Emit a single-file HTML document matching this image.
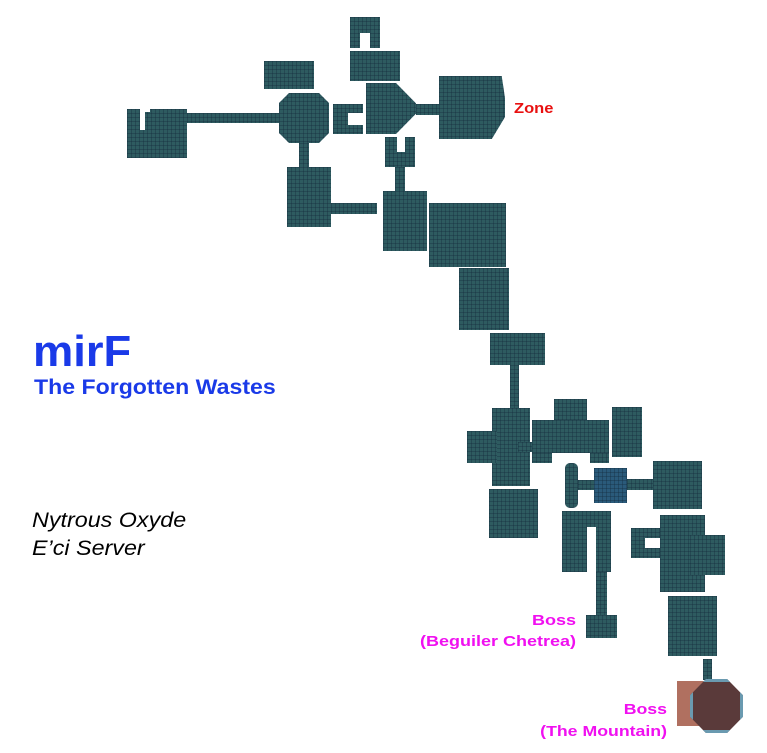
<!DOCTYPE html>
<html><head><meta charset="utf-8"><style>
html,body{margin:0;padding:0;background:#fff;}
body{width:767px;height:753px;position:relative;overflow:hidden;font-family:"Liberation Sans",sans-serif;}
.r{position:absolute;background:#2e5b60;background-image:linear-gradient(rgba(20,40,60,.35) 1px,transparent 1px),linear-gradient(90deg,rgba(20,40,60,.35) 1px,transparent 1px);background-size:4px 4px;}
.w{position:absolute;background:#fff;}
.t{position:absolute;white-space:nowrap;}
</style></head><body>
<div class="r" style="left:127px;top:109px;width:60px;height:49px"></div>
<div class="w" style="left:140px;top:109px;width:5px;height:21px"></div>
<div class="w" style="left:145px;top:109px;width:5px;height:3px"></div>
<div class="r" style="left:187px;top:113px;width:92px;height:10px"></div>
<div class="r" style="left:264px;top:61px;width:50px;height:28px"></div>
<div class="r" style="left:279px;top:93px;width:50px;height:50px;clip-path:polygon(0 20%,20% 0,80% 0,100% 20%,100% 80%,80% 100%,20% 100%,0 80%)"></div>
<div class="r" style="left:299px;top:143px;width:10px;height:24px"></div>
<div class="r" style="left:287px;top:167px;width:44px;height:60px"></div>
<div class="r" style="left:331px;top:203px;width:46px;height:11px"></div>
<div class="r" style="left:333px;top:104px;width:30px;height:30px"></div>
<div class="w" style="left:348px;top:113px;width:15px;height:12px"></div>
<div class="r" style="left:366px;top:83px;width:50px;height:51px;clip-path:polygon(0 0,60% 0,100% 40%,100% 60%,60% 100%,0 100%)"></div>
<div class="r" style="left:350px;top:17px;width:30px;height:31px"></div>
<div class="w" style="left:360px;top:33px;width:10px;height:15px"></div>
<div class="r" style="left:350px;top:51px;width:50px;height:30px"></div>
<div class="r" style="left:416px;top:104px;width:23px;height:11px"></div>
<div class="r" style="left:439px;top:76px;width:66px;height:63px;clip-path:polygon(0 0,95% 0,100% 35%,100% 65%,80% 100%,0 100%)"></div>
<div class="r" style="left:385px;top:137px;width:30px;height:30px"></div>
<div class="w" style="left:397px;top:137px;width:8px;height:15px"></div>
<div class="r" style="left:395px;top:167px;width:10px;height:25px"></div>
<div class="r" style="left:383px;top:191px;width:44px;height:60px"></div>
<div class="r" style="left:429px;top:203px;width:77px;height:64px"></div>
<div class="r" style="left:459px;top:268px;width:50px;height:62px"></div>
<div class="r" style="left:490px;top:333px;width:55px;height:32px"></div>
<div class="r" style="left:510px;top:365px;width:9px;height:45px"></div>
<div class="r" style="left:492px;top:408px;width:38px;height:78px"></div>
<div class="r" style="left:467px;top:431px;width:30px;height:32px"></div>
<div class="r" style="left:518px;top:442px;width:14px;height:10px"></div>
<div class="r" style="left:489px;top:489px;width:49px;height:49px"></div>
<div class="r" style="left:554px;top:399px;width:33px;height:21px"></div>
<div class="r" style="left:532px;top:420px;width:77px;height:33px"></div>
<div class="r" style="left:532px;top:453px;width:20px;height:10px"></div>
<div class="r" style="left:590px;top:453px;width:19px;height:10px"></div>
<div class="r" style="left:612px;top:407px;width:30px;height:50px"></div>
<div class="r" style="left:565px;top:463px;width:13px;height:45px;border-radius:5px"></div>
<div class="r" style="left:578px;top:480px;width:16px;height:10px"></div>
<div class="r" style="left:594px;top:468px;width:33px;height:35px;background-color:#2a5a7a"></div>
<div class="r" style="left:627px;top:479px;width:26px;height:11px"></div>
<div class="r" style="left:653px;top:461px;width:49px;height:48px"></div>
<div class="r" style="left:562px;top:511px;width:49px;height:61px"></div>
<div class="w" style="left:587px;top:527px;width:9px;height:45px"></div>
<div class="r" style="left:596px;top:572px;width:11px;height:43px"></div>
<div class="r" style="left:586px;top:615px;width:31px;height:23px"></div>
<div class="r" style="left:660px;top:515px;width:45px;height:77px"></div>
<div class="r" style="left:690px;top:535px;width:35px;height:40px"></div>
<div class="r" style="left:631px;top:528px;width:29px;height:30px"></div>
<div class="w" style="left:645px;top:538px;width:15px;height:10px"></div>
<div class="r" style="left:668px;top:596px;width:49px;height:60px"></div>
<div class="r" style="left:703px;top:659px;width:9px;height:21px"></div>
<div style="position:absolute;left:677px;top:681px;width:30px;height:45px;background:#b07060"></div>
<div style="position:absolute;left:690px;top:679px;width:53px;height:54px;background:#5a3a3a;border:3px solid #6a9ab0;box-sizing:border-box;clip-path:polygon(30% 0,70% 0,100% 30%,100% 70%,70% 100%,30% 100%,0 70%,0 30%)"></div>
<div class="t" style="left:33px;top:327px;font-size:44px;font-weight:bold;color:#1a3ae8;transform:scaleX(1.03);transform-origin:0 0">mirF</div>
<div class="t" style="left:34px;top:376px;font-size:21px;font-weight:bold;color:#1a3ae8;transform:scaleX(1.1);transform-origin:0 0">The Forgotten Wastes</div>
<div class="t" style="left:32px;top:509px;font-size:21px;font-style:italic;color:#000;transform:scaleX(1.11);transform-origin:0 0">Nytrous Oxyde</div>
<div class="t" style="left:32px;top:537px;font-size:21px;font-style:italic;color:#000;transform:scaleX(1.11);transform-origin:0 0">E’ci Server</div>
<div class="t" style="left:514px;top:100px;font-size:15px;font-weight:bold;color:#e81010;transform:scaleX(1.1);transform-origin:0 0">Zone</div>
<div class="t" style="left:420px;top:610px;width:156px;text-align:right;font-size:15px;font-weight:bold;color:#f010f0;line-height:21px;transform:scaleX(1.2);transform-origin:100% 0">Boss<br>(Beguiler Chetrea)</div>
<div class="t" style="left:530px;top:699px;width:137px;text-align:right;font-size:15px;font-weight:bold;color:#f010f0;line-height:22px;transform:scaleX(1.18);transform-origin:100% 0">Boss<br>(The Mountain)</div>
</body></html>
